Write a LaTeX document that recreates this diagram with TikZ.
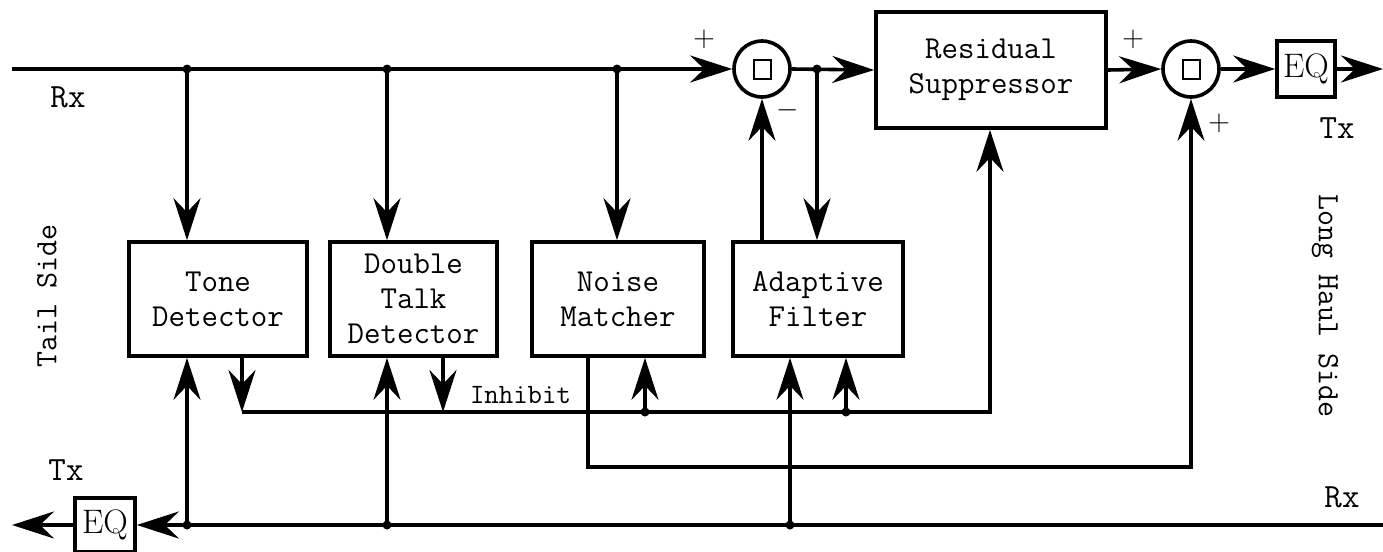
\documentclass[tikz,border=0pt]{standalone}
\usepackage{fontspec}
\usetikzlibrary{arrows.meta}

\tikzset{
  blk/.style={draw, line width=1.8pt, align=center, inner sep=0pt,
    font=\ttfamily\fontsize{16}{17.5}\selectfont},
  eqbox/.style={draw, line width=1.8pt, inner sep=0pt, minimum width=29pt,
    minimum height=28pt, font=\rmfamily\fontsize{17}{17}\selectfont},
  sumnode/.style={draw, circle, line width=1.8pt, minimum size=28pt, inner sep=0pt,
    path picture={\draw[line width=1pt]
      ([xshift=-4.25pt,yshift=-4.75pt]path picture bounding box.center) rectangle
      ([xshift=4.25pt,yshift=4.75pt]path picture bounding box.center);}},
  sig/.style={line width=1.8pt, -{Stealth[length=21pt,width=13.5pt,inset=7pt]}},
  wire/.style={line width=1.8pt},
  lbl/.style={font=\ttfamily\fontsize{17}{17}\selectfont},
  sidelbl/.style={font=\ttfamily\fontsize{15.5}{15.5}\selectfont},
  sgn/.style={font=\fontsize{13.5}{13.5}\selectfont},
  dot/.style={circle, fill, inner sep=0pt, minimum size=4.5pt}
}

\begin{document}
\begin{tikzpicture}[x=0.5pt,y=-0.5pt]
\useasboundingbox (0,0) rectangle (1383,552);

% blocks
\node[blk, minimum width=89pt, minimum height=57pt] (tone) at (218,299) {Tone\\Detector};
\node[blk, minimum width=83.5pt, minimum height=57pt] (dtd) at (413.5,299) {Double\\Talk\\Detector};
\node[blk, minimum width=86pt, minimum height=57pt] (noise) at (618,299) {Noise\\Matcher};
\node[blk, minimum width=85pt, minimum height=57pt] (adapt) at (818,299) {Adaptive\\Filter};
\node[blk, minimum width=115pt, minimum height=58pt] (resid) at (991,70) {Residual\\Suppressor};
\node[sumnode] (sum1) at (762,69) {};
\node[sumnode] (sum2) at (1191,69) {};
\node[eqbox] (eqR) at (1306,69) {EQ};
\node[eqbox, minimum width=30pt, minimum height=27pt] (eqL) at (105,525) {EQ};

% line ends and taps
\coordinate (rxL) at (12,69);
\coordinate (txR) at (1383,69);
\coordinate (rxR) at (1383,525);
\coordinate (txL) at (12,525);
\coordinate (t1) at (187,69);
\coordinate (t2) at (387,69);
\coordinate (t3) at (617,69);
\coordinate (t4) at (817,69);
\coordinate (b1) at (187,525);
\coordinate (b2) at (387,525);
\coordinate (b3) at (790,525);
\coordinate (i1) at (242,412);
\coordinate (i2) at (443,412);
\coordinate (i3) at (645,412);
\coordinate (i4) at (846,412);
\coordinate (i5) at (990,412);
\coordinate (n1) at (588,467);

% Rx path on top
\draw[sig] (rxL) -- (sum1.west);
\foreach \t/\b in {t1/tone,t2/dtd,t3/noise}
  {\draw[sig] (\t) -- (\t |- \b.north);}
\draw[sig] (sum1.east) -- (resid.west);
\draw[sig] (t4) -- (t4 |- adapt.north);
\draw[sig] (adapt.north -| sum1) -- (sum1.south);
\draw[sig] (resid.east) -- (sum2.west);
\draw[sig] (sum2.east) -- (eqR.west);
\draw[sig] (eqR.east) -- (txR);

% path at the bottom
\draw[sig] (rxR) -- (eqL.east);
\draw[sig] (eqL.west) -- (txL);
\foreach \t/\b in {b1/tone,b2/dtd,b3/adapt}
  {\draw[sig] (\t) -- (\t |- \b.south);}

% inhibit bus
\draw[sig] (i1 |- tone.south) -- (i1);
\draw[sig] (i2 |- dtd.south) -- (i2);
\draw[sig] (i1) -- (i5) -- (i5 |- resid.south);
\draw[sig] (i3) -- (i3 |- noise.south);
\draw[sig] (i4) -- (i4 |- adapt.south);

% noise matcher output
\draw[sig] (noise.south -| n1) -- (n1) -| (sum2.south);

\foreach \d in {t1,t2,t3,t4,b1,b2,b3,i3,i4}
  {\node[dot] at (\d) {};}

% labels
\node[sgn] (p1) at (704,39) {$+$};
\node[sgn] (m1) at (788,110) {$-$};
\node[sgn] (p2) at (1133,39) {$+$};
\node[sgn] (p3) at (1219,123) {$+$};
\node[lbl] (rxa) at (68,97) {Rx};
\node[lbl] (txa) at (66,470) {Tx};
\node[lbl] (txb) at (1337,128) {Tx};
\node[lbl] (rxb) at (1342,497) {Rx};
\node[font=\ttfamily\fontsize{14}{14}\selectfont, anchor=base west] (inh) at (463,403) {Inhibit};
\node[sidelbl, rotate=90] (tail) at (47,296) {Tail Side};
\node[sidelbl, rotate=-90] (long) at (1325,306) {Long Haul Side};

\end{tikzpicture}
\end{document}
